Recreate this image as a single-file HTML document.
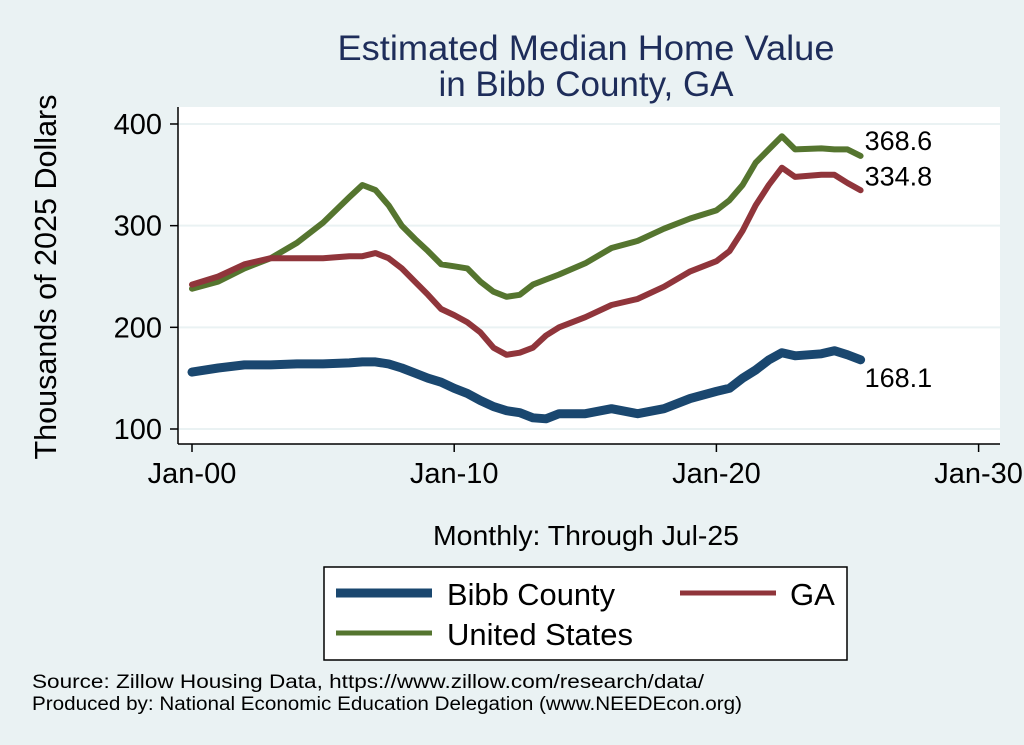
<!DOCTYPE html>
<html><head><meta charset="utf-8">
<style>
html,body{margin:0;padding:0;background:#eaf2f3;}
svg{display:block;font-family:"Liberation Sans",Arial,sans-serif;}
</style></head>
<body>
<svg id="chart" width="1024" height="745" viewBox="0 0 1024 745">
<rect x="0" y="0" width="1024" height="745" fill="#eaf2f3"/>
<text x="586" y="60" font-size="35" fill="#1e2d5a" text-anchor="middle" textLength="497" lengthAdjust="spacingAndGlyphs">Estimated Median Home Value</text>
<text x="586" y="96" font-size="35" fill="#1e2d5a" text-anchor="middle">in Bibb County, GA</text>
<rect x="178" y="107" width="822" height="337" fill="#ffffff"/>
<g id="grid"></g>
<g id="series"></g>
<g id="axes"></g>
<text x="56" y="277" font-size="31" fill="#000" text-anchor="middle" transform="rotate(-90 56 277)" textLength="365" lengthAdjust="spacingAndGlyphs">Thousands of 2025 Dollars</text>
<text x="586" y="545" font-size="28" fill="#000" text-anchor="middle" textLength="306" lengthAdjust="spacingAndGlyphs">Monthly: Through Jul-25</text>
<g>
<rect x="324" y="567" width="523" height="93" fill="#fff" stroke="#000" stroke-width="1.5"/>
<line x1="336" y1="593" x2="432" y2="593" stroke="#1a476f" stroke-width="9"/>
<text x="447" y="605" font-size="31" textLength="168" lengthAdjust="spacingAndGlyphs">Bibb County</text>
<line x1="680" y1="593" x2="776" y2="593" stroke="#90353b" stroke-width="5"/>
<text x="790" y="605" font-size="31">GA</text>
<line x1="336" y1="633" x2="432" y2="633" stroke="#55752f" stroke-width="5"/>
<text x="447" y="645" font-size="31" textLength="186" lengthAdjust="spacingAndGlyphs">United States</text>
</g>
<text x="32" y="688" font-size="19" textLength="672" lengthAdjust="spacingAndGlyphs">Source: Zillow Housing Data, https://www.zillow.com/research/data/</text>
<text x="32" y="710" font-size="19" textLength="710" lengthAdjust="spacingAndGlyphs">Produced by: National Economic Education Delegation (www.NEEDEcon.org)</text>
</svg>
<script>
const years = [2000,2001,2002,2003,2004,2005,2006,2006.5,2007,2007.5,2008,2008.5,2009,2009.5,2010,2010.5,2011,2011.5,2012,2012.5,2013,2013.5,2014,2015,2016,2017,2018,2019,2020,2020.5,2021,2021.5,2022,2022.5,2023,2024,2024.5,2025,2025.5];
const bibb = [156,160,163,163,164,164,165,166,166,164,160,155,150,146,140,135,128,122,118,116,111,110,115,115,120,115,120,130,137,140,150,158,168,175,172,174,177,173,168.1];
const ga = [242,250,262,268,268,268,270,270,273,268,258,245,232,218,212,205,195,180,173,175,180,192,200,210,222,228,240,255,265,275,295,320,340,357,348,350,350,342,334.8];
const us = [238,245,258,268,283,303,328,340,335,320,300,287,275,262,260,258,245,235,230,232,242,247,252,263,278,285,297,307,315,325,340,362,375,388,375,376,375,375,368.6];
const yTicks = [100,200,300,400];
const xTicks = [2000,2010,2020,2030];
const xLabels = ["Jan-00","Jan-10","Jan-20","Jan-30"];
const endLabels = ["168.1","334.8","368.6"];

const NS = "http://www.w3.org/2000/svg";
function X(t){ return 192 + (t-2000)*26.22; }
function Y(v){ return 429 - (v-100)*1.0167; }
function mk(tag, attrs, parent){ const e=document.createElementNS(NS,tag); for(const k in attrs) e.setAttribute(k,attrs[k]); parent.appendChild(e); return e; }

const grid=document.getElementById('grid'), axes=document.getElementById('axes'), series=document.getElementById('series');
yTicks.forEach(v=>{
  const g=mk('line',{x1:178,x2:1000,y1:Y(v),y2:Y(v),stroke:'#eaf2f3','stroke-width':2},grid);
  
  
  const t=mk('line',{x1:170,x2:178,y1:Y(v),y2:Y(v),stroke:'#000','stroke-width':1.5},axes);
  
  
  const l=mk('text',{x:162,y:Y(v)+10,'font-size':29,'text-anchor':'end'},axes);
  l.textContent=v;
  
  
});
const ya=mk('line',{x1:178,x2:178,y1:107,y2:444,stroke:'#000','stroke-width':1.5},axes);


const xa=mk('line',{x1:178,x2:1000,y1:444,y2:444,stroke:'#000','stroke-width':1.5},axes);


xTicks.forEach((t,i)=>{
  const tk=mk('line',{x1:X(t),x2:X(t),y1:444,y2:452,stroke:'#000','stroke-width':1.5},axes);
  
  
  const l=mk('text',{x:X(t),y:483,'font-size':29,'text-anchor':'middle'},axes);
  l.textContent=xLabels[i];
  
  
});
function line(vals,color,w,name){
  const d=vals.map((v,i)=>(i?'L':'M')+X(years[i]).toFixed(1)+' '+Y(v).toFixed(1)).join(' ');
  const p=mk('path',{d:d,fill:'none',stroke:color,'stroke-width':w,'stroke-linejoin':'round','stroke-linecap':'round'},series);
  
  
}
line(us,'#55752f',6,'series-united-states');
line(ga,'#90353b',6,'series-ga');
line(bibb,'#1a476f',9,'series-bibb-county');
const last=years.length-1;
[[bibb,27,'end-label-bibb'],[ga,-5,'end-label-ga'],[us,-6,'end-label-us']].forEach((a,i)=>{
  const t=mk('text',{x:X(years[last])+4,y:Y(a[0][last])+a[1],'font-size':27},series);
  t.textContent=endLabels[i];
  
  
});
</script>
</body></html>
